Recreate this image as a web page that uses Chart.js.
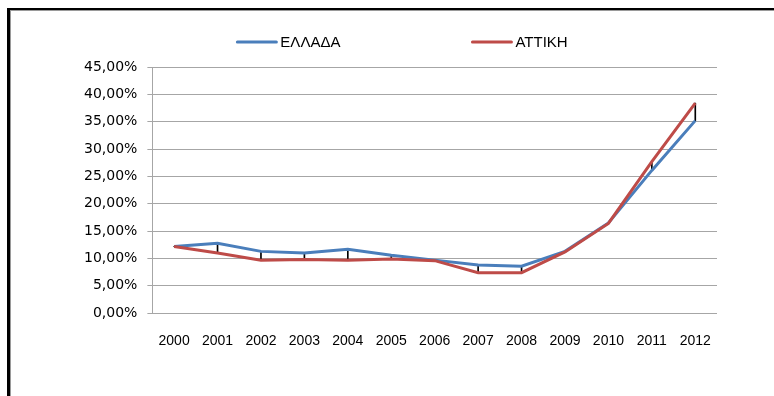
<!DOCTYPE html>
<html>
<head>
<meta charset="utf-8">
<script src="https://cdn.jsdelivr.net/npm/chart.js@4"></script>
<style>
  html, body { margin: 0; padding: 0; background: #fff; overflow: hidden; }
  #frame {
    position: absolute; left: 7px; top: 8px;
    width: 767px; height: 388px;
    border-left: 3px solid #000; border-top: 2px solid #000;
  }
  #inner {
    width: 100%; height: 100%;
    border-left: 1px solid #9a9a9a; border-top: 1px solid #9a9a9a;
  }
  #wrap { position: relative; width: 763px; height: 385px; }
</style>
</head>
<body>
<div id="frame"><div id="inner"><div id="wrap"><canvas id="lineChart"></canvas></div></div></div>
<script>
// Δεδομένα
var years = ['2000', '2001', '2002', '2003', '2004', '2005', '2006', '2007', '2008', '2009', '2010', '2011', '2012'];
var ellada = [12.2, 12.8, 11.3, 11.0, 11.7, 10.6, 9.7, 8.8, 8.6, 11.3, 16.5, 26.1, 35.2];
var attiki = [12.2, 11.0, 9.7, 9.8, 9.7, 9.9, 9.6, 7.4, 7.4, 11.2, 16.4, 27.7, 38.4];
var yTicks = [0, 5, 10, 15, 20, 25, 30, 35, 40, 45];

// γραμμές υψηλού-χαμηλού ανάμεσα στις δύο σειρές
var hiLo = years.map(function (_, i) {
    return [Math.min(ellada[i], attiki[i]), Math.max(ellada[i], attiki[i])];
});

// υπόμνημα με μεγάλο κενό ανάμεσα στα στοιχεία (όπως στο Excel)
var spreadLegend = {
    id: 'spreadLegend',
    afterDraw: function (chart, args, opts) {
        var ctx = chart.ctx;
        var items = chart.data.datasets.filter(function (d) { return d.type === 'line'; });
        ctx.save();
        ctx.font = opts.font;
        var widths = items.map(function (d) {
            return opts.boxWidth + opts.textGap + ctx.measureText(d.label).width;
        });
        var total = widths.reduce(function (a, b) { return a + b; }, 0) + opts.gap * (items.length - 1);
        var x = opts.centerX - total / 2;
        items.forEach(function (d, i) {
            ctx.strokeStyle = d.borderColor;
            ctx.lineWidth = 3;
            ctx.lineCap = 'round';
            ctx.beginPath();
            ctx.moveTo(x + 1, opts.y);
            ctx.lineTo(x + opts.boxWidth - 1, opts.y);
            ctx.stroke();
            ctx.fillStyle = '#000';
            ctx.textBaseline = 'middle';
            ctx.fillText(d.label, x + opts.boxWidth + opts.textGap, opts.y + 1);
            x += widths[i] + opts.gap;
        });
        ctx.restore();
    }
};

var ctx = document.getElementById('lineChart').getContext('2d');
var myChart = new Chart(ctx, {
    data: {
        labels: years,
        datasets: [{
            type: 'line',
            label: 'ΕΛΛΑΔΑ',
            data: ellada,
            borderColor: '#4a7ebb',
            borderWidth: 3,
            pointRadius: 0,
            tension: 0,
            order: 1
        }, {
            type: 'line',
            label: 'ΑΤΤΙΚΗ',
            data: attiki,
            borderColor: '#be4b48',
            borderWidth: 3,
            pointRadius: 0,
            tension: 0,
            order: 0
        }, {
            type: 'bar',
            label: 'hi-lo',
            data: hiLo,
            backgroundColor: '#000',
            barThickness: 1,
            borderWidth: 0,
            order: 2
        }]
    },
    options: {
        responsive: true,
        maintainAspectRatio: false,
        animation: false,
        layout: { padding: { left: 63, right: 57, top: 56, bottom: 26 } },
        plugins: {
            legend: { display: false },
            tooltip: { enabled: false },
            spreadLegend: {
                font: '15px "Liberation Sans"',
                boxWidth: 41,
                textGap: 3,
                gap: 131,
                centerX: 391,
                y: 31
            }
        },
        scales: {
            x: {
                offset: true,
                grid: { display: false, drawTicks: false },
                border: { display: false },
                ticks: {
                    color: '#000',
                    padding: 20,
                    maxRotation: 0,
                    autoSkip: false,
                    font: { family: 'Liberation Sans', size: 14 }
                }
            },
            y: {
                min: 0,
                max: 45,
                afterBuildTicks: function (axis) {
                    axis.ticks = yTicks.map(function (v) { return { value: v }; });
                },
                grid: { color: '#a6a6a6', lineWidth: 1, tickLength: 5 },
                border: { color: '#a6a6a6', width: 1 },
                ticks: {
                    color: '#000',
                    padding: 10,
                    font: { family: 'DejaVu Sans', size: 14 },
                    callback: function (v) { return v.toFixed(2).replace('.', ',') + '%'; }
                }
            }
        }
    },
    plugins: [spreadLegend]
});
</script>
</body>
</html>
